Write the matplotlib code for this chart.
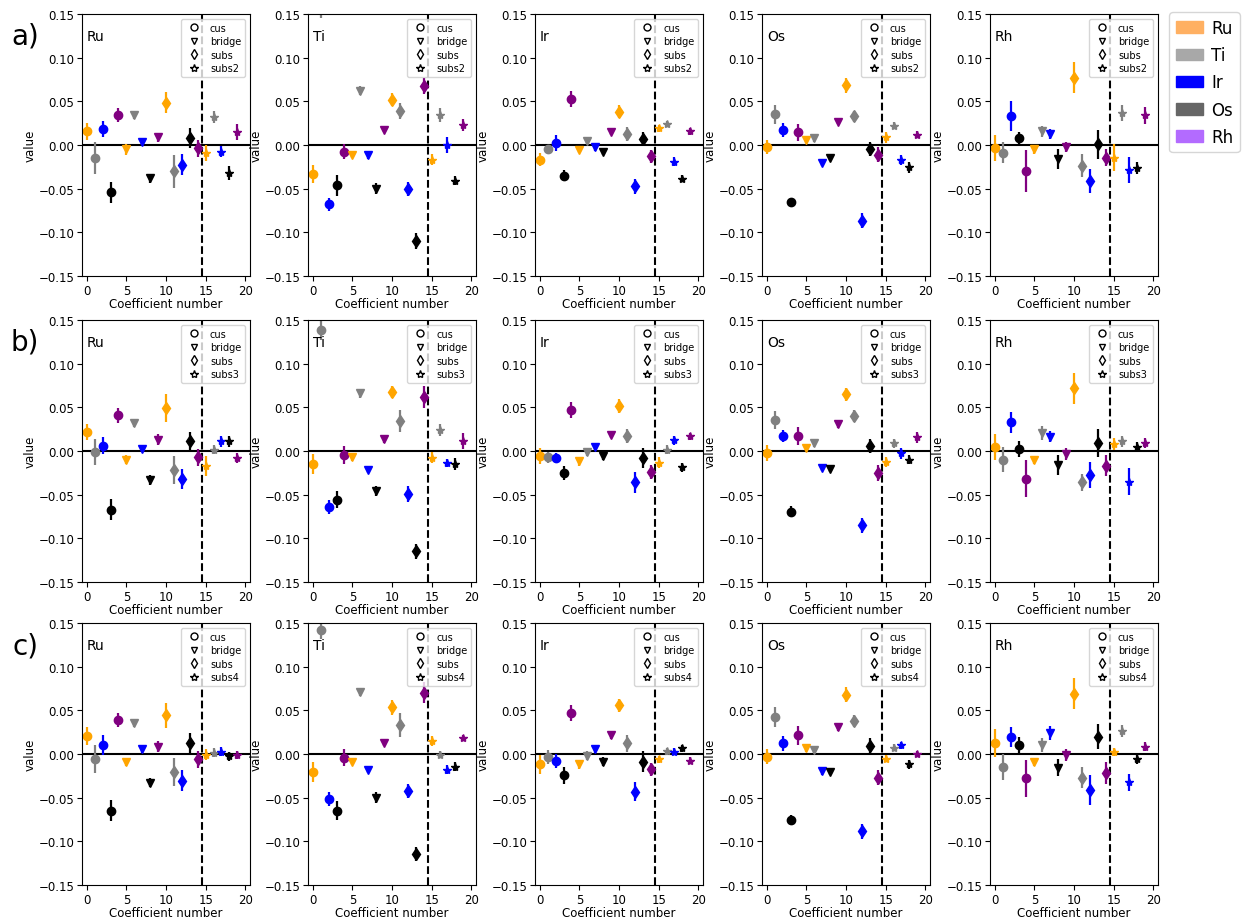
import numpy as np
import matplotlib
matplotlib.use("Agg")
import matplotlib.pyplot as plt
from matplotlib.lines import Line2D
from matplotlib.patches import Patch

METALS = ["Ru", "Ti", "Ir", "Os", "Rh"]
ROWS = ["a)", "b)", "c)"]
LAST_SITE = ["subs2", "subs3", "subs4"]
SITES = ["cus", "bridge", "subs"]
POINT_COLORS = ["orange", "grey", "blue", "black", "purple"]
LEGEND_COLORS = ["#ffb062", "#a8a8a8", "#0000ff", "#666666", "#b36bff"]
coef = np.arange(20)

# row a) values / errors, coefficient 0..19
a_val = {
    "Ru": [0.0156, -0.0148, 0.018, -0.054, 0.0346, -0.005, 0.034, 0.004, -0.038, 0.009,
           0.0486, -0.030, -0.0228, 0.008, -0.004, -0.0095, 0.032, -0.0076, -0.032, 0.015],
    "Ti": [-0.033, 0.165, -0.068, -0.046, -0.0076, -0.012, 0.062, -0.012, -0.050, 0.0175,
           0.052, 0.039, -0.050, -0.110, 0.0676, -0.0167, 0.034, 0.000, -0.0407, 0.023],
    "Ir": [-0.0167, -0.0046, 0.002, -0.035, 0.053, -0.0057, 0.005, -0.0027, -0.0084, 0.0152,
           0.038, 0.0125, -0.0475, 0.0068, -0.0129, 0.019, 0.024, -0.019, -0.0388, 0.0156],
    "Os": [-0.002, 0.035, 0.0175, -0.065, 0.0144, 0.006, 0.0076, -0.021, -0.015, 0.0266,
           0.0684, 0.0327, -0.0866, -0.0046, -0.011, 0.0087, 0.022, -0.017, -0.0255, 0.012],
    "Rh": [-0.0034, -0.009, 0.033, 0.0076, -0.030, -0.005, 0.0156, 0.0125, -0.016, -0.002,
           0.077, -0.0236, -0.0407, 0.001, -0.0144, -0.0144, 0.0365, -0.029, -0.0266, 0.034],
}
a_err = {
    "Ru": [0.010, 0.018, 0.009, 0.012, 0.008, 0.006, 0.004, 0.004, 0.005, 0.005,
           0.012, 0.019, 0.012, 0.012, 0.010, 0.009, 0.007, 0.006, 0.008, 0.009],
    "Ti": [0.010, 0.020, 0.007, 0.012, 0.009, 0.003, 0.005, 0.004, 0.006, 0.003,
           0.007, 0.009, 0.008, 0.009, 0.009, 0.006, 0.008, 0.009, 0.005, 0.007],
    "Ir": [0.007, 0.005, 0.009, 0.006, 0.009, 0.004, 0.004, 0.004, 0.003, 0.004,
           0.0076, 0.0076, 0.009, 0.008, 0.0076, 0.004, 0.003, 0.005, 0.004, 0.004],
    "Os": [0.008, 0.011, 0.008, 0.004, 0.010, 0.004, 0.004, 0.003, 0.003, 0.003,
           0.0085, 0.006, 0.009, 0.008, 0.009, 0.006, 0.004, 0.006, 0.006, 0.004],
    "Rh": [0.0145, 0.012, 0.0175, 0.0076, 0.024, 0.005, 0.006, 0.006, 0.011, 0.006,
           0.018, 0.013, 0.0137, 0.0167, 0.0095, 0.015, 0.009, 0.015, 0.007, 0.010],
}

# row b)
b_val = {
    "Ru": [0.022, -0.0015, 0.006, -0.067, 0.041, -0.0099, 0.0316, 0.0023, -0.033, 0.013,
           0.0487, -0.0217, -0.032, 0.011, -0.0072, -0.0175, 0.0015, 0.011, 0.011, -0.008],
    "Ti": [-0.0149, 0.1386, -0.0644, -0.0556, -0.0046, -0.0072, 0.066, -0.0217, -0.046, 0.0137,
           0.0678, 0.0347, -0.049, -0.115, 0.062, -0.0076, 0.0244, -0.0137, -0.0152, 0.0118],
    "Ir": [-0.0057, -0.0072, -0.008, -0.0255, 0.0468, -0.0118, -0.0015, 0.005, -0.0053, 0.018,
           0.0518, 0.0168, -0.036, -0.008, -0.0236, -0.0133, 0.0015, 0.0122, -0.0187, 0.0171],
    "Os": [-0.002, 0.0354, 0.0175, -0.0693, 0.0171, 0.004, 0.0088, -0.0198, -0.0206, 0.0308,
           0.065, 0.040, -0.0853, 0.0053, -0.0248, -0.0126, 0.0088, -0.0027, -0.0099, 0.0156],
    "Rh": [0.0042, -0.0099, 0.0327, 0.0023, -0.0316, -0.0103, 0.0206, 0.0164, -0.016, -0.0034,
           0.072, -0.036, -0.0278, 0.0088, -0.0171, 0.0084, 0.011, -0.035, 0.005, 0.0091],
}
b_err = {
    "Ru": [0.009, 0.015, 0.010, 0.0115, 0.0087, 0.005, 0.004, 0.004, 0.006, 0.006,
           0.016, 0.016, 0.0115, 0.011, 0.0095, 0.0115, 0.005, 0.006, 0.006, 0.006],
    "Ti": [0.011, 0.011, 0.008, 0.010, 0.010, 0.004, 0.005, 0.003, 0.006, 0.004,
           0.007, 0.0125, 0.009, 0.0087, 0.0125, 0.006, 0.007, 0.005, 0.007, 0.009],
    "Ir": [0.0095, 0.006, 0.006, 0.008, 0.009, 0.005, 0.004, 0.004, 0.005, 0.003,
           0.008, 0.008, 0.012, 0.011, 0.008, 0.006, 0.005, 0.005, 0.005, 0.004],
    "Os": [0.009, 0.010, 0.007, 0.006, 0.010, 0.004, 0.004, 0.003, 0.004, 0.004,
           0.0076, 0.007, 0.009, 0.008, 0.009, 0.006, 0.005, 0.006, 0.005, 0.006],
    "Rh": [0.015, 0.0145, 0.0125, 0.009, 0.021, 0.005, 0.008, 0.006, 0.011, 0.007,
           0.0177, 0.0099, 0.015, 0.016, 0.012, 0.007, 0.006, 0.015, 0.005, 0.006],
}

# row c)
c_val = {
    "Ru": [0.0209, -0.0061, 0.0103, -0.065, 0.0388, -0.0091, 0.035, 0.0053, -0.033, 0.0084,
           0.0441, -0.0205, -0.0308, 0.0122, -0.0061, -0.0008, 0.0015, 0.0027, -0.0027, -0.0011],
    "Ti": [-0.0205, 0.1422, -0.0517, -0.065, -0.0042, -0.0091, 0.0707, -0.0179, -0.050, 0.0125,
           0.0536, 0.0331, -0.0422, -0.115, 0.0703, 0.0148, -0.0011, -0.0179, -0.0144, 0.0183],
    "Ir": [-0.0118, -0.0034, -0.008, -0.0243, 0.0471, -0.0118, -0.0019, 0.0053, -0.0087, 0.0217,
           0.0559, 0.0122, -0.0433, -0.0091, -0.0175, -0.0061, 0.0034, 0.0023, 0.0068, -0.008],
    "Os": [-0.003, 0.0426, 0.0122, -0.0753, 0.0213, 0.0065, 0.0049, -0.0198, -0.0202, 0.0308,
           0.068, 0.0376, -0.0886, 0.0095, -0.027, -0.0057, 0.0072, 0.0099, -0.0118, 0.000],
    "Rh": [0.0129, -0.0148, 0.0194, 0.0103, -0.0278, -0.0091, 0.0099, 0.0243, -0.0156, -0.0011,
           0.0692, -0.027, -0.0414, 0.0198, -0.0217, 0.0023, 0.0262, -0.0323, -0.0053, 0.0084],
}
c_err = {
    "Ru": [0.0105, 0.016, 0.012, 0.012, 0.008, 0.005, 0.004, 0.004, 0.005, 0.006,
           0.014, 0.0156, 0.012, 0.012, 0.010, 0.006, 0.005, 0.005, 0.005, 0.005],
    "Ti": [0.011, 0.011, 0.008, 0.011, 0.010, 0.003, 0.004, 0.004, 0.006, 0.003,
           0.0085, 0.014, 0.0084, 0.008, 0.012, 0.006, 0.004, 0.005, 0.005, 0.003],
    "Ir": [0.0107, 0.008, 0.008, 0.0095, 0.009, 0.005, 0.005, 0.004, 0.005, 0.004,
           0.0076, 0.0095, 0.011, 0.012, 0.0076, 0.004, 0.004, 0.004, 0.004, 0.004],
    "Os": [0.009, 0.0114, 0.0086, 0.005, 0.0105, 0.004, 0.004, 0.004, 0.004, 0.004,
           0.0087, 0.0068, 0.009, 0.0087, 0.0087, 0.004, 0.004, 0.004, 0.005, 0.004],
    "Rh": [0.016, 0.015, 0.0114, 0.009, 0.021, 0.005, 0.008, 0.008, 0.010, 0.007,
           0.0175, 0.012, 0.017, 0.014, 0.013, 0.005, 0.007, 0.0099, 0.006, 0.005],
}

ROW_DATA = [(a_val, a_err), (b_val, b_err), (c_val, c_err)]
MARKERS = ["o", "v", "d", "*"]

W, H = 1243, 920
fig = plt.figure(figsize=(W / 100, H / 100), dpi=100)
col_left = [82, 308, 535, 762, 990]
row_top = [15, 321, 624]
aw, ah = 168, 262

for r, (vals, errs) in enumerate(ROW_DATA):
    for c, metal in enumerate(METALS):
        ax = fig.add_axes([col_left[c] / W, 1 - (row_top[r] + ah) / H, aw / W, ah / H])
        v = vals[metal]; e = errs[metal]
        ax.axhline(0, color="k", lw=1.5, zorder=1)
        ax.axvline(14.5, color="k", ls="--", lw=1.5, zorder=1)
        for i in coef:
            m = MARKERS[i // 5]
            ms = 6 if m == "*" else 6
            ax.errorbar(i, v[i], yerr=e[i], fmt=m, color=POINT_COLORS[i % 5],
                        ms=ms, elinewidth=1.6, capsize=0, zorder=2)
        ax.set_ylim(-0.15, 0.15)
        ax.set_xlim(-0.6, 20.6)
        ax.set_xticks([0, 5, 10, 15, 20])
        ax.set_yticks(np.arange(-0.15, 0.151, 0.05))
        ax.tick_params(labelsize=8.5, pad=2)
        ax.set_xlabel("Coefficient number", fontsize=8.5, labelpad=0)
        ax.set_ylabel("value", fontsize=8.5, labelpad=1)
        ax.text(0.03, 0.9, metal, transform=ax.transAxes, fontsize=10)
        handles = [Line2D([], [], ls="none", marker=mk, color="k", mfc="none",
                          ms=5 if mk != "*" else 6)
                   for mk in MARKERS]
        labels = SITES + [LAST_SITE[r]]
        ax.legend(handles, labels, loc="upper right", fontsize=7, handletextpad=0.6,
                  labelspacing=0.35, borderpad=0.4)
    fig.text(25 / W, 1 - (row_top[r] + 22) / H, ROWS[r], fontsize=20, ha="center", va="center")

patches = [Patch(color=col) for col in LEGEND_COLORS]
fig.legend(patches, METALS, loc="upper left", bbox_to_anchor=(1166 / W, 1 - 10 / H),
           fontsize=12, handlelength=1.6, handletextpad=0.5, labelspacing=0.55,
           borderpad=0.4, borderaxespad=0.2)

fig.savefig("out.png", dpi=100)
